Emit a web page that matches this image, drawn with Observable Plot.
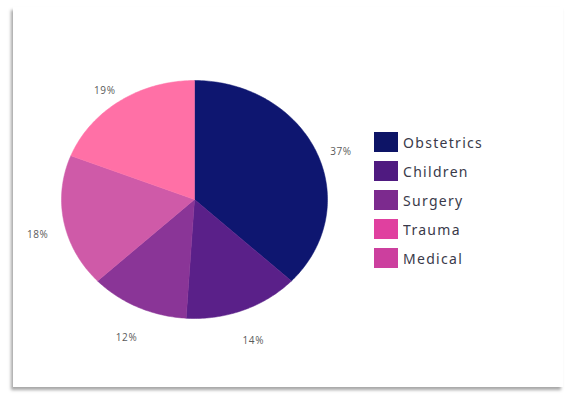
<!DOCTYPE html>
<html><head><meta charset="utf-8">
<script src="https://cdn.jsdelivr.net/npm/d3@7"></script>
<script src="https://cdn.jsdelivr.net/npm/@observablehq/plot@0.6"></script>
<style>
body{margin:0;background:#fff;width:567px;height:395px;overflow:hidden;position:relative;font-family:"Open Sans",sans-serif}
#card{position:absolute;left:13px;top:7px;width:550px;height:380px;background:#fff;box-shadow:-2px 3px 3px rgba(0,0,0,.35);}
#chart{position:absolute;left:0;top:0}
#legend{position:absolute;left:374px;top:132px}
.lg-swatch{padding-bottom:9px !important;font-size:14px;color:#3a3a4a;letter-spacing:1.3px}
.lg-swatch svg{margin-right:5px !important}
</style></head><body>
<div id="card"></div><div id="chart"></div><div id="legend"></div>
<script>
const departments = ["Obstetrics", "Children", "Surgery", "Trauma", "Medical"];
const shares = [37, 14, 12, 18, 19];
const sliceColors = ["#0e1670", "#5a2089", "#8a3597", "#cf5aa8", "#ff70a6"];
const legendColors = ["#0d1466", "#4f1a80", "#7c2a8e", "#e0409f", "#cc3f9e"];

const arcs = d3.pie().sort(null).value(d => d)(shares);
const rows = [];
const labels = [];
arcs.forEach((p, i) => {
  const dept = departments[i];
  const n = Math.max(2, Math.ceil((p.endAngle - p.startAngle) / (Math.PI / 180)));
  rows.push({dept, x: 0, y: 0});
  for (let k = 0; k <= n; k++) {
    const a = p.startAngle + (p.endAngle - p.startAngle) * k / n;
    rows.push({dept, x: Math.sin(a), y: Math.cos(a)});
  }
  rows.push({dept, x: 0, y: 0});
  const m = (p.startAngle + p.endAngle) / 2;
  labels.push({dept, x: 1.2 * Math.sin(m), y: 1.2 * Math.cos(m), text: shares[i] + "%"});
});

const chart = Plot.plot({
  width: 567, height: 395,
  marginLeft: 61, marginRight: 240, marginTop: 80, marginBottom: 77,
  style: {background: "transparent", fontFamily: "Open Sans, sans-serif"},
  x: {domain: [-1, 1], axis: null},
  y: {domain: [-1, 1], axis: null},
  color: {domain: departments, range: sliceColors},
  marks: [
    Plot.line(rows, {x: "x", y: "y", z: "dept", fill: "dept", stroke: "dept", strokeWidth: 0.5, curve: "linear"}),
    Plot.text(labels, {x: "x", y: "y", text: "text", dy: 9, fontSize: 10, fill: "#5a5a5a", style: "letter-spacing:0.6px"})
  ]
});
chart.querySelectorAll("text").forEach(t => t.style.letterSpacing = "0.6px");
document.getElementById("chart").append(chart);

const legend = Plot.legend({
  color: {domain: departments, range: legendColors},
  legend: "swatches", columns: 1, swatchWidth: 24, swatchHeight: 20, className: "lg"
});
document.getElementById("legend").append(legend);
</script>
</body></html>
